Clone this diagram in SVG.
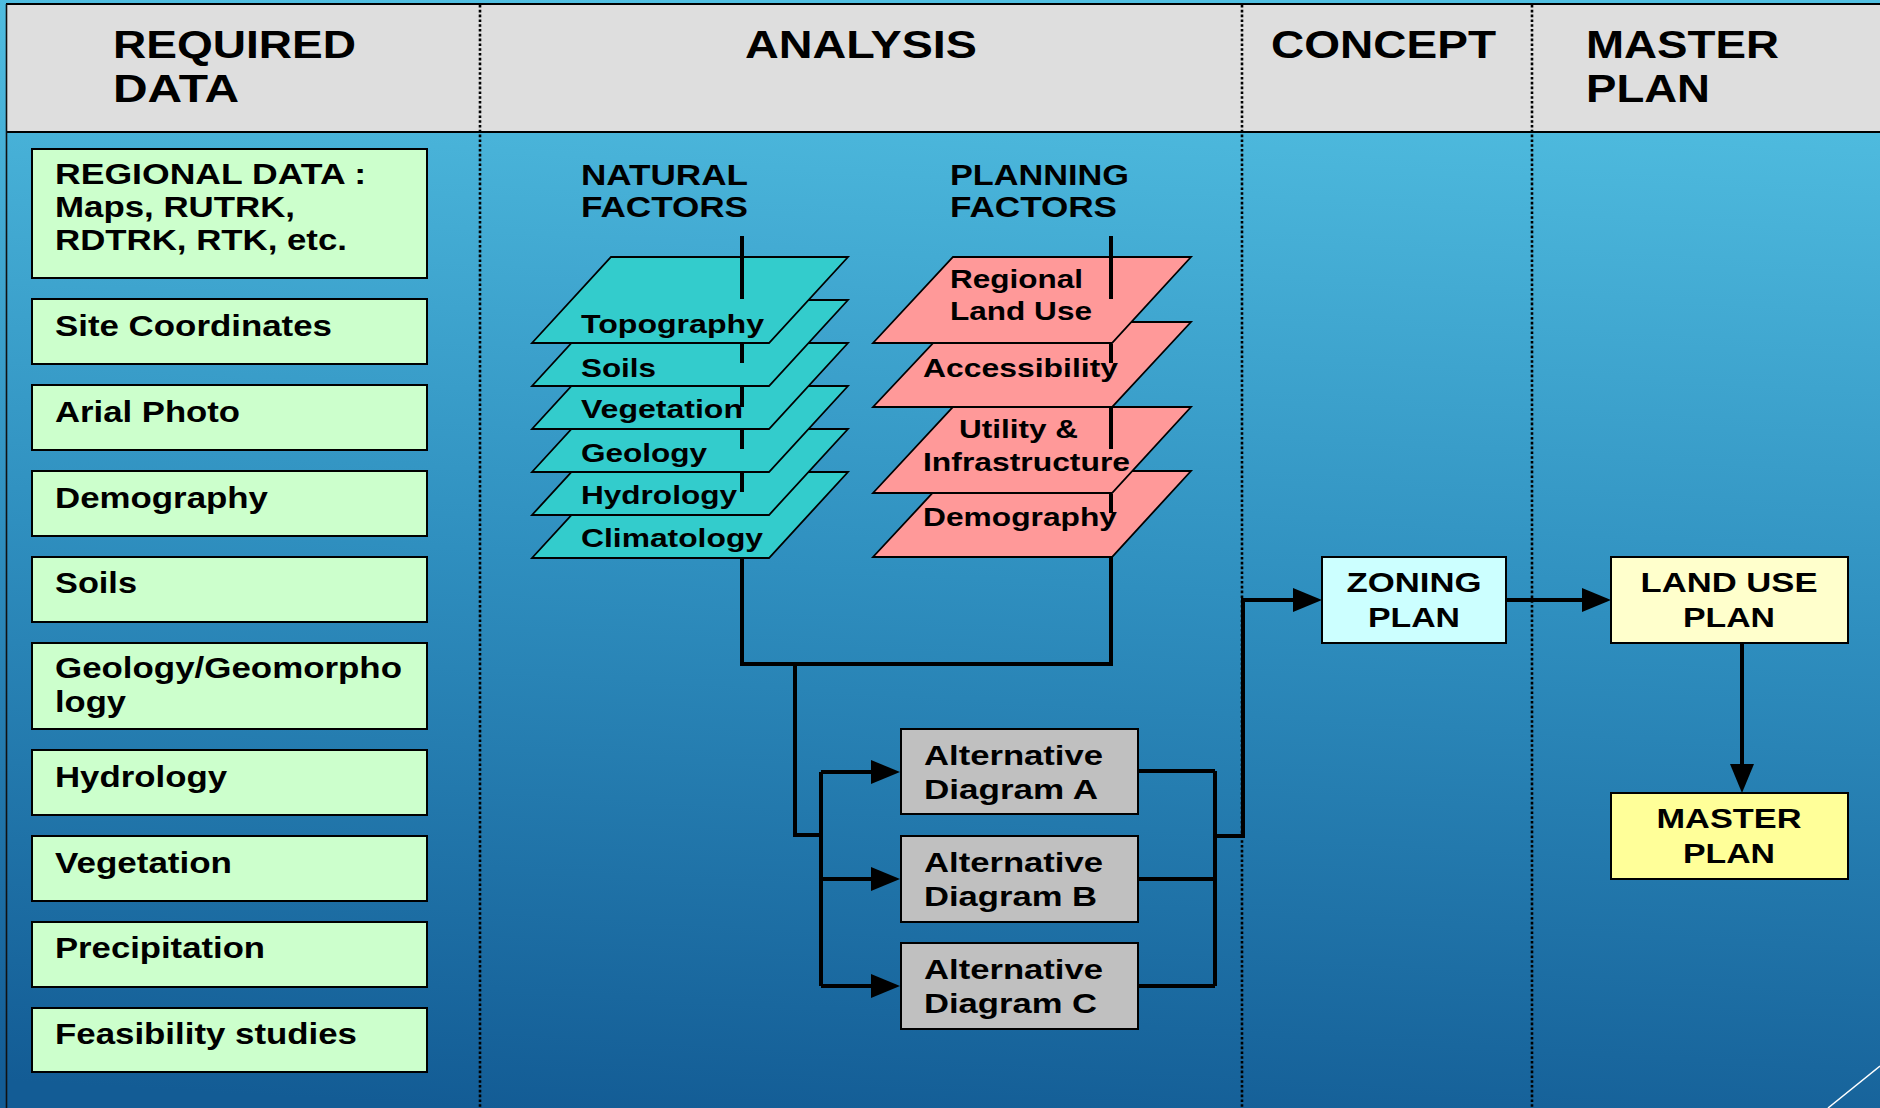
<svg xmlns="http://www.w3.org/2000/svg" width="1880" height="1108" viewBox="0 0 1880 1108">
<defs>
<linearGradient id="bg" x1="0.35" y1="0" x2="0.25" y2="1">
<stop offset="0" stop-color="#52c0e2"/>
<stop offset="0.5" stop-color="#2f8fbf"/>
<stop offset="1" stop-color="#135c95"/>
</linearGradient>
<marker id="ah" markerUnits="userSpaceOnUse" markerWidth="30" markerHeight="24" refX="19" refY="12" orient="auto">
<path d="M0,0 L29,12 L0,24 z" fill="#000"/>
</marker>
<style>
text{font-family:"Liberation Sans",Arial,sans-serif;font-weight:bold;fill:#000}
.hd{font-size:39px}
.bx{font-size:29px}
.sub{font-size:29px}
.ly{font-size:26px}
.al{font-size:28px}
.pl{font-size:27px}
.data{fill:#ccffcc;stroke:#000;stroke-width:2}
.nat{fill:#33cccc;stroke:#000;stroke-width:1.8}
.pla{fill:#ff9999;stroke:#000;stroke-width:1.8}
.alt{fill:#c0c0c0;stroke:#000;stroke-width:2}
.pin{stroke:#000;stroke-width:4;fill:none}
.dot{stroke:#000;stroke-width:2.6;stroke-dasharray:2.6 2.2;fill:none}
.con{stroke:#000;stroke-width:4;fill:none}
.arr{stroke:#000;stroke-width:4;fill:none;marker-end:url(#ah)}
</style>
</defs>

<rect x="0" y="0" width="1880" height="1108" fill="url(#bg)"/>

<g id="header">
<rect x="6" y="4" width="1880" height="128" fill="#dedede"/>
<line x1="6" y1="4" x2="1880" y2="4" stroke="#000" stroke-width="2"/>
<line x1="6" y1="132" x2="1880" y2="132" stroke="#000" stroke-width="2"/>
<line x1="6.5" y1="4" x2="6.5" y2="1108" stroke="#111" stroke-width="1.6"/>
<text class="hd" x="113" y="58" textLength="243" lengthAdjust="spacingAndGlyphs">REQUIRED</text>
<text class="hd" x="113" y="102" textLength="126" lengthAdjust="spacingAndGlyphs">DATA</text>
<text class="hd" x="745" y="58" textLength="232" lengthAdjust="spacingAndGlyphs">ANALYSIS</text>
<text class="hd" x="1271" y="58" textLength="225" lengthAdjust="spacingAndGlyphs">CONCEPT</text>
<text class="hd" x="1586" y="58" textLength="193" lengthAdjust="spacingAndGlyphs">MASTER</text>
<text class="hd" x="1586" y="102" textLength="124" lengthAdjust="spacingAndGlyphs">PLAN</text>
</g>

<g id="dividers">
<line class="dot" x1="480" y1="5" x2="480" y2="1108"/>
<line class="dot" x1="1242" y1="5" x2="1242" y2="1108"/>
<line class="dot" x1="1532" y1="5" x2="1532" y2="1108"/>
</g>

<g id="required-data">
<g id="regional-data">
<rect class="data" x="32" y="149" width="395" height="129"/>
<text class="bx" x="55" y="184" textLength="311" lengthAdjust="spacingAndGlyphs">REGIONAL DATA :</text>
<text class="bx" x="55" y="217" textLength="240" lengthAdjust="spacingAndGlyphs">Maps, RUTRK,</text>
<text class="bx" x="55" y="250" textLength="292" lengthAdjust="spacingAndGlyphs">RDTRK, RTK, etc.</text>
</g>
<g id="site-coordinates">
<rect class="data" x="32" y="299" width="395" height="65"/>
<text class="bx" x="55" y="336" textLength="277" lengthAdjust="spacingAndGlyphs">Site Coordinates</text>
</g>
<g id="arial-photo">
<rect class="data" x="32" y="385" width="395" height="65"/>
<text class="bx" x="55" y="422" textLength="185" lengthAdjust="spacingAndGlyphs">Arial Photo</text>
</g>
<g id="demography-data">
<rect class="data" x="32" y="471" width="395" height="65"/>
<text class="bx" x="55" y="508" textLength="213" lengthAdjust="spacingAndGlyphs">Demography</text>
</g>
<g id="soils-data">
<rect class="data" x="32" y="557" width="395" height="65"/>
<text class="bx" x="55" y="593" textLength="82" lengthAdjust="spacingAndGlyphs">Soils</text>
</g>
<g id="geology-data">
<rect class="data" x="32" y="643" width="395" height="86"/>
<text class="bx" x="55" y="678" textLength="347" lengthAdjust="spacingAndGlyphs">Geology/Geomorpho</text>
<text class="bx" x="55" y="712" textLength="71" lengthAdjust="spacingAndGlyphs">logy</text>
</g>
<g id="hydrology-data">
<rect class="data" x="32" y="750" width="395" height="65"/>
<text class="bx" x="55" y="787" textLength="172" lengthAdjust="spacingAndGlyphs">Hydrology</text>
</g>
<g id="vegetation-data">
<rect class="data" x="32" y="836" width="395" height="65"/>
<text class="bx" x="55" y="873" textLength="177" lengthAdjust="spacingAndGlyphs">Vegetation</text>
</g>
<g id="precipitation-data">
<rect class="data" x="32" y="922" width="395" height="65"/>
<text class="bx" x="55" y="958" textLength="210" lengthAdjust="spacingAndGlyphs">Precipitation</text>
</g>
<g id="feasibility-data">
<rect class="data" x="32" y="1008" width="395" height="64"/>
<text class="bx" x="55" y="1044" textLength="302" lengthAdjust="spacingAndGlyphs">Feasibility studies</text>
</g>
</g>

<g id="natural-factors">
<text class="sub" x="581" y="185" textLength="167" lengthAdjust="spacingAndGlyphs">NATURAL</text>
<text class="sub" x="581" y="217" textLength="167" lengthAdjust="spacingAndGlyphs">FACTORS</text>
<polygon class="nat" points="611,472 848,472 769,558 532,558"/>
<text class="ly" x="581" y="547" textLength="182" lengthAdjust="spacingAndGlyphs">Climatology</text>
<polygon class="nat" points="611,429 848,429 769,515 532,515"/>
<text class="ly" x="581" y="504" textLength="156" lengthAdjust="spacingAndGlyphs">Hydrology</text>
<polygon class="nat" points="611,386 848,386 769,472 532,472"/>
<text class="ly" x="581" y="462" textLength="126" lengthAdjust="spacingAndGlyphs">Geology</text>
<polygon class="nat" points="611,343 848,343 769,429 532,429"/>
<text class="ly" x="581" y="418" textLength="162" lengthAdjust="spacingAndGlyphs">Vegetation</text>
<polygon class="nat" points="611,300 848,300 769,386 532,386"/>
<text class="ly" x="581" y="377" textLength="75" lengthAdjust="spacingAndGlyphs">Soils</text>
<polygon class="nat" points="611,257 848,257 769,343 532,343"/>
<text class="ly" x="581" y="333" textLength="183" lengthAdjust="spacingAndGlyphs">Topography</text>
<path class="pin" d="M742,236 V299 M742,344 V363 M742,387 V407 M742,430 V449 M742,473 V492"/>
</g>

<g id="planning-factors">
<text class="sub" x="950" y="185" textLength="179" lengthAdjust="spacingAndGlyphs">PLANNING</text>
<text class="sub" x="950" y="217" textLength="167" lengthAdjust="spacingAndGlyphs">FACTORS</text>
<polygon class="pla" points="953,471 1191,471 1112,557 873,557"/>
<text class="ly" x="923" y="526" textLength="194" lengthAdjust="spacingAndGlyphs">Demography</text>
<polygon class="pla" points="953,407 1191,407 1112,493 873,493"/>
<text class="ly" x="959" y="438" textLength="119" lengthAdjust="spacingAndGlyphs">Utility &amp;</text>
<text class="ly" x="923" y="471" textLength="207" lengthAdjust="spacingAndGlyphs">Infrastructure</text>
<polygon class="pla" points="953,322 1191,322 1112,407 873,407"/>
<text class="ly" x="923" y="377" textLength="195" lengthAdjust="spacingAndGlyphs">Accessibility</text>
<polygon class="pla" points="953,257 1191,257 1112,343 873,343"/>
<text class="ly" x="950" y="288" textLength="133" lengthAdjust="spacingAndGlyphs">Regional</text>
<text class="ly" x="950" y="320" textLength="142" lengthAdjust="spacingAndGlyphs">Land Use</text>
<path class="pin" d="M1111,236 V299 M1111,344 V363 M1111,408 V449 M1111,494 V513"/>
</g>

<g id="alt-a">
<rect class="alt" x="901" y="729" width="237" height="85"/>
<text class="al" x="924" y="765" textLength="179" lengthAdjust="spacingAndGlyphs">Alternative</text>
<text class="al" x="924" y="799" textLength="174" lengthAdjust="spacingAndGlyphs">Diagram A</text>
</g>
<g id="alt-b">
<rect class="alt" x="901" y="836" width="237" height="86"/>
<text class="al" x="924" y="872" textLength="179" lengthAdjust="spacingAndGlyphs">Alternative</text>
<text class="al" x="924" y="906" textLength="173" lengthAdjust="spacingAndGlyphs">Diagram B</text>
</g>
<g id="alt-c">
<rect class="alt" x="901" y="943" width="237" height="86"/>
<text class="al" x="924" y="979" textLength="179" lengthAdjust="spacingAndGlyphs">Alternative</text>
<text class="al" x="924" y="1013" textLength="173" lengthAdjust="spacingAndGlyphs">Diagram C</text>
</g>

<g id="zoning-plan">
<rect x="1322" y="557" width="184" height="86" fill="#ccffff" stroke="#000" stroke-width="2"/>
<text class="pl" x="1414" y="592" text-anchor="middle" textLength="135" lengthAdjust="spacingAndGlyphs">ZONING</text>
<text class="pl" x="1414" y="627" text-anchor="middle" textLength="92" lengthAdjust="spacingAndGlyphs">PLAN</text>
</g>
<g id="land-use-plan">
<rect x="1611" y="557" width="237" height="86" fill="#ffffcc" stroke="#000" stroke-width="2"/>
<text class="pl" x="1729" y="592" text-anchor="middle" textLength="177" lengthAdjust="spacingAndGlyphs">LAND USE</text>
<text class="pl" x="1729" y="627" text-anchor="middle" textLength="92" lengthAdjust="spacingAndGlyphs">PLAN</text>
</g>
<g id="master-plan">
<rect x="1611" y="793" width="237" height="86" fill="#ffff99" stroke="#000" stroke-width="2"/>
<text class="pl" x="1729" y="828" text-anchor="middle" textLength="145" lengthAdjust="spacingAndGlyphs">MASTER</text>
<text class="pl" x="1729" y="863" text-anchor="middle" textLength="92" lengthAdjust="spacingAndGlyphs">PLAN</text>
</g>

<g id="connectors">
<path class="con" d="M742,557 V664 H1111 V557"/>
<path class="con" d="M795,664 V835 H821"/>
<path class="con" d="M821,772 V986"/>
<path class="arr" d="M821,772 H890"/>
<path class="arr" d="M821,879 H890"/>
<path class="arr" d="M821,986 H890"/>
<path class="con" d="M1138,771 H1215 M1138,879 H1215 M1138,986 H1215 M1215,771 V986"/>
<path class="arr" d="M1215,836 H1243 V600 H1312"/>
<path class="arr" d="M1506,600 H1601"/>
<path class="arr" d="M1742,643 V783"/>
</g>

<line x1="1828" y1="1108" x2="1880" y2="1066" stroke="#ffffff" stroke-width="1.5"/>
</svg>
